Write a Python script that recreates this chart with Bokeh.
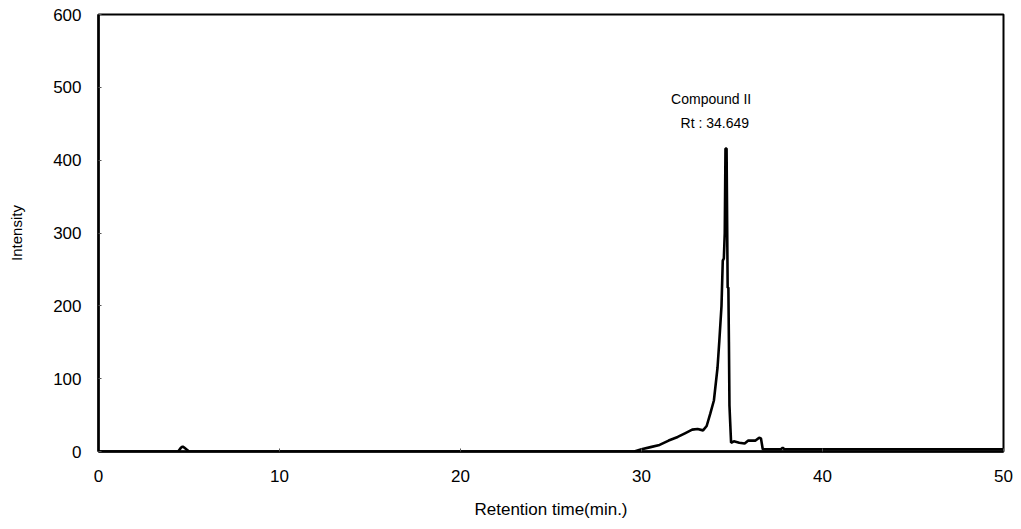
from bokeh.plotting import figure
from bokeh.models import Range1d, FixedTicker, Label
from bokeh.embed import file_html
from bokeh.resources import INLINE

# Chromatogram trace (retention time in min, intensity)
rt = [0.0, 4.40, 4.55, 4.65, 4.75, 4.90, 5.00, 29.6, 30.0, 30.5, 31.0, 31.5, 32.0,
      32.4, 32.8, 33.1, 33.4, 33.6, 33.8, 34.0, 34.2, 34.3, 34.42, 34.49, 34.55,
      34.60, 34.64, 34.70, 34.76, 34.80, 34.83, 34.86, 34.90, 34.95, 35.1, 35.4,
      35.7, 35.9, 36.1, 36.3, 36.5, 36.6, 36.7, 37.7, 37.8, 37.9, 50.0]
intensity = [0, 0, 5, 7, 5, 2, 0, 0, 3, 6, 9, 15, 20,
             25, 30, 31, 29, 35, 52, 70, 115, 152, 200, 262, 265,
             300, 416, 416, 225, 225, 150, 63, 40, 12, 14, 12,
             11, 15, 15, 15, 19, 18, 3, 3, 5, 3, 3]

peak_rt = 34.649
peak_height = 416
peak_name = "Compound II"
peak_label = "Rt : 34.649"

x_ticks = [0, 10, 20, 30, 40, 50]
y_ticks = [0, 100, 200, 300, 400, 500, 600]

p = figure(width=1013, height=521, output_backend="svg", toolbar_location=None,
           x_range=Range1d(0, 50), y_range=Range1d(0, 600),
           min_border_left=98, min_border_right=10, min_border_top=14,
           min_border_bottom=70)

p.line(rt, intensity, line_color="black", line_width=2.6)

p.xgrid.visible = False
p.ygrid.visible = False
p.outline_line_color = "black"
p.outline_line_width = 2
p.background_fill_color = "white"
p.border_fill_color = "white"

font = "Liberation Sans"
for ax in (p.xaxis[0], p.yaxis[0]):
    ax.axis_line_color = "black"
    ax.axis_line_width = 2.5
    ax.major_tick_in = 3
    ax.major_tick_out = 0
    ax.minor_tick_line_color = None
    ax.major_tick_line_color = "#555555"
    ax.major_label_text_font = font
    ax.major_label_text_font_size = "17px"
    ax.major_label_text_color = "black"
    ax.axis_label_text_font = font
    ax.axis_label_text_font_style = "normal"
    ax.axis_label_text_color = "black"

p.xaxis.ticker = FixedTicker(ticks=x_ticks)
p.yaxis.ticker = FixedTicker(ticks=y_ticks)
p.xaxis.major_label_standoff = 18
p.yaxis.major_label_standoff = 17
p.xaxis.axis_label = "Retention time(min.)"
p.xaxis.axis_label_text_font_size = "17px"
p.xaxis.axis_label_standoff = 15
p.yaxis.axis_label = "Intensity"
p.yaxis.axis_label_text_font_size = "15px"
p.yaxis.axis_label_standoff = 25

p.add_layout(Label(x=peak_rt - 0.8, y=peak_height, text=peak_name, x_offset=0, y_offset=42,
                   text_align="center", text_font=font, text_font_size="14px",
                   text_color="black"))
p.add_layout(Label(x=peak_rt - 0.6, y=peak_height, text=peak_label, x_offset=0, y_offset=18,
                   text_align="center", text_font=font, text_font_size="14px",
                   text_color="black"))

open("out.html", "w").write(file_html(p, INLINE))
